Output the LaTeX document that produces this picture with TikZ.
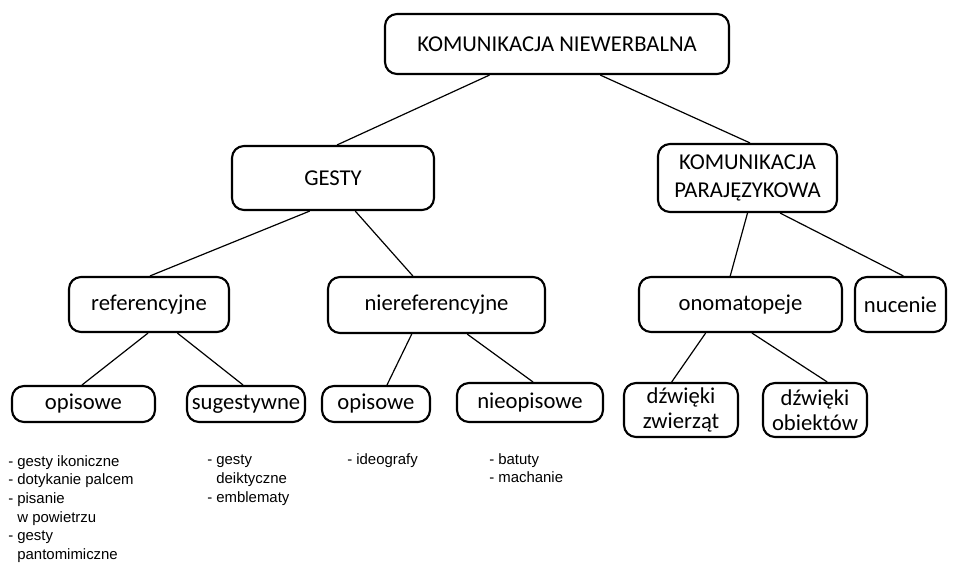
\documentclass[tikz,border=0pt]{standalone}
\usepackage{fontspec}
\setmainfont{Carlito}
\newfontfamily\listfont{Liberation Sans}
\usetikzlibrary{calc}

% connector from a fraction along the lower edge of one box
% to a fraction along the upper edge of another
\newcommand\joinbox[4]{%
  \draw[link] ($(#1.south west)!#2!(#1.south east)$) --
              ($(#3.north west)!#4!(#3.north east)$);}

\begin{document}
\begin{tikzpicture}[x=0.75pt,y=-0.75pt,
  box/.style={draw, line width=1.6pt, rounded corners=9pt, inner sep=0pt,
              align=center, font=\fontsize{17}{20}\selectfont},
  wh/.style 2 args={minimum width={#1*0.75pt}, minimum height={#2*0.75pt}},
  link/.style={line width=0.9pt},
  notes/.style={anchor=north west, inner sep=0pt, align=left,
                font=\listfont\fontsize{11.2}{14}\selectfont}]
\useasboundingbox (0,0) rectangle (958,569);

% level 0
\node[box, wh={344}{60}] (top) at (557,44) {KOMUNIKACJA NIEWERBALNA};

% level 1
\node[box, wh={202}{64}] (gesty) at (333,178) {GESTY};
\node[box, wh={179}{68}, font=\fontsize{17}{20.5}\selectfont] (para) at (747.5,178)
  {KOMUNIKACJA\\PARAJĘZYKOWA};

% level 2
\node[box, wh={160}{55}] (ref)    at (149,304.5)   {referencyjne};
\node[box, wh={217}{56}] (nieref) at (436.5,305)   {niereferencyjne};
\node[box, wh={203}{55}] (onom)   at (740.5,304.5) {onomatopeje};
\node[box, wh={91}{55}]  (nucen)  at (900.5,304.5) {nucenie};

% level 3
\node[box, wh={143}{36}] (opis1)  at (83.5,404)  {opisowe};
\node[box, wh={118}{36}] (sug)    at (246,404)   {sugestywne};
\node[box, wh={108}{36}] (opis2)  at (376,404)   {opisowe};
\node[box, wh={146}{39}] (nieop)  at (530,402.5) {nieopisowe};
\node[box, wh={114}{54}, font=\fontsize{17}{18.5}\selectfont] (zwierz) at (681,410) {dźwięki\\zwierząt};
\node[box, wh={104}{54}, font=\fontsize{17}{18.5}\selectfont] (obiekt) at (815,410) {dźwięki\\obiektów};

% connectors
\joinbox{top}{0.305}{gesty}{0.52}
\joinbox{top}{0.625}{para}{0.514}
\joinbox{gesty}{0.386}{ref}{0.506}
\joinbox{gesty}{0.609}{nieref}{0.392}
\joinbox{ref}{0.494}{opis1}{0.49}
\joinbox{ref}{0.675}{sug}{0.475}
\joinbox{nieref}{0.387}{opis2}{0.60}
\joinbox{nieref}{0.64}{nieop}{0.52}
\joinbox{para}{0.50}{onom}{0.45}
\joinbox{para}{0.68}{nucen}{0.53}
\joinbox{onom}{0.33}{zwierz}{0.42}
\joinbox{onom}{0.556}{obiekt}{0.615}

% example lists under the lowest boxes
\node[notes] (list1) at (8,455)
  {- gesty ikoniczne\\- dotykanie palcem\\- pisanie\\\phantom{- }w powietrzu\\- gesty\\\phantom{- }pantomimiczne};
\node[notes] (list2) at (207,455)
  {- gesty\\\phantom{- }deiktyczne\\- emblematy};
\node[notes] (list3) at (347,453) {- ideografy};
\node[notes] (list4) at (489,453) {- batuty\\- machanie};
\end{tikzpicture}
\end{document}
